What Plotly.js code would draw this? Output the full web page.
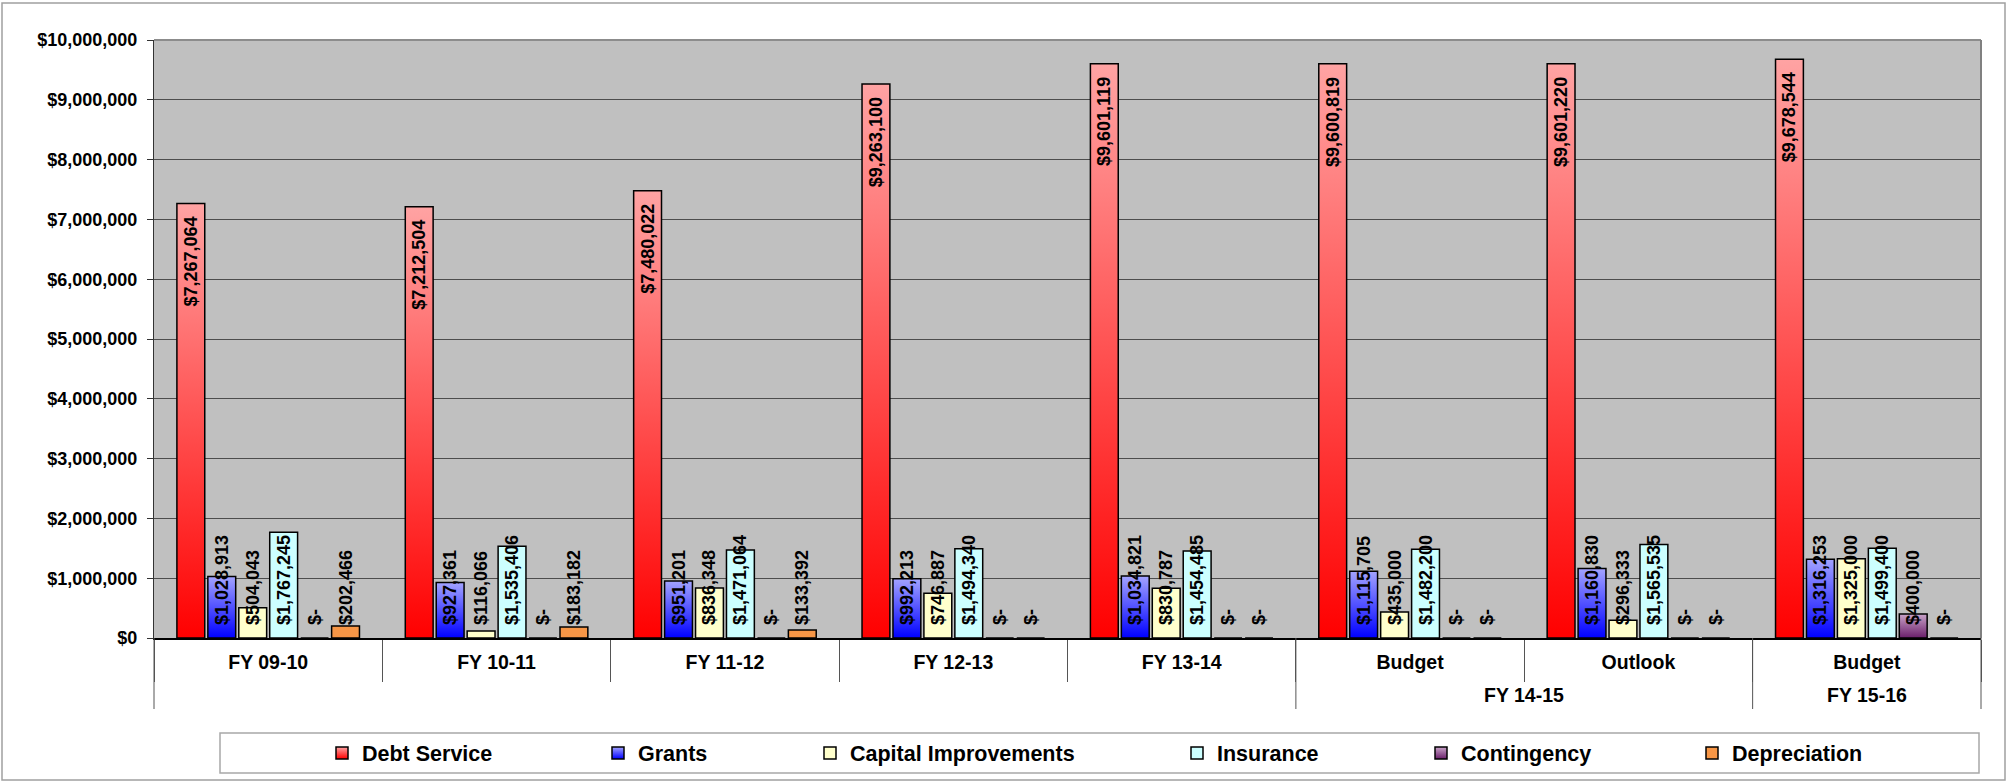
<!DOCTYPE html>
<html>
<head>
<meta charset="utf-8">
<script src="https://cdn.plot.ly/plotly-3.0.1.min.js"></script>
<style>
  html, body { margin: 0; padding: 0; background: #fff; }
  #chart { width: 2013px; height: 782px; }
</style>
</head>
<body>
<div id="chart"></div>
<script>
// ---- data ----------------------------------------------------------------
const periods     = ['FY 09-10', 'FY 10-11', 'FY 11-12', 'FY 12-13', 'FY 13-14', 'Budget', 'Outlook', 'Budget'];
const fiscalYears = ['', '', '', '', '', 'FY 14-15', 'FY 14-15', 'FY 15-16'];

const seriesNames = ['Debt Service', 'Grants', 'Capital Improvements', 'Insurance', 'Contingency', 'Depreciation'];

const debtService         = [7267064, 7212504, 7480022, 9263100, 9601119, 9600819, 9601220, 9678544];
const grants              = [1028913,  927361,  951201,  992213, 1034821, 1115705, 1160830, 1316253];
const capitalImprovements = [ 504043,  116066,  836348,  746887,  830787,  435000,  296333, 1325000];
const insurance           = [1767245, 1535406, 1471064, 1494340, 1454485, 1482200, 1565535, 1499400];
const contingency         = [      0,       0,       0,       0,       0,       0,       0,  400000];
const depreciation        = [ 202466,  183182,  133392,       0,       0,       0,       0,       0];

const seriesValues = [debtService, grants, capitalImprovements, insurance, contingency, depreciation];

// unique category keys; the axis shows the period name only
const categoryKeys = periods.map((p, i) => fiscalYears[i] ? p + ' ' + fiscalYears[i] : p);

// ---- styling ---------------------------------------------------------------
const FONT = 'Liberation Sans, Arial, sans-serif';
// base colour (bottom of bar) and highlight colour (top of bar)
const barColours = [
  { base: '#FF0000', top: '#FFA3A3' },
  { base: '#0000FF', top: '#A3A3FF' },
  { base: '#FFFFCC', top: '#FFFFCC' },
  { base: '#CCFFFF', top: '#CCFFFF' },
  { base: '#6A1E6A', top: '#C9A3C9' },
  { base: '#F79646', top: '#F79646' }
];

const W = 2013, H = 782;
const M = { l: 154, r: 32, t: 40, b: 144 };
const PW = W - M.l - M.r, PH = H - M.t - M.b;
const px2x = px => (px - M.l) / PW;
const py2y = py => (M.t + PH - py) / PH;

const nCat = categoryKeys.length;
const catToPaper = c => (c + 0.5) / nCat;   // category index -> paper x

// left edge of each legend entry, in page pixels
const legendLeft = [322, 598, 810, 1177, 1421, 1692];
const legendMid = 753;
const yearLabelMid = 695;
const dividerBottom = 709;

const NBSP = '\u00A0\u00A0';
const money = v => v === 0 ? '$-' : '$' + v.toLocaleString('en-US');

const labelFont = { family: FONT, size: 18, color: '#000', weight: 'bold' };
const axisFont  = { family: FONT, size: 19.5, color: '#000', weight: 'bold' };

const traces = seriesNames.map((name, i) => {
  const vals = seriesValues[i];
  const isDebt = i === 0;
  return {
    type: 'bar',
    name: name,
    x: categoryKeys,
    y: vals,
    legend: i === 0 ? 'legend' : 'legend' + (i + 1),
    marker: { color: barColours[i].base, line: { color: '#000', width: 1.5 } },
    text: vals.map(v => isDebt ? money(v) + NBSP : NBSP + money(v)),
    textposition: vals.map(v => v > 0 ? 'inside' : 'outside'),
    insidetextanchor: isDebt ? 'end' : 'start',
    textangle: -90,
    constraintext: 'none',
    cliponaxis: false,
    textfont: labelFont,
    insidetextfont: labelFont,
    outsidetextfont: labelFont,
    hoverinfo: 'skip'
  };
});

// fiscal-year groups along the category axis
const groups = [];
fiscalYears.forEach((fy, i) => {
  if (i === 0 || fy !== fiscalYears[i - 1]) groups.push({ label: fy, first: i, last: i });
  else groups[groups.length - 1].last = i;
});

const shapes = [
  // plot-area frame on top and right
  { type: 'line', xref: 'paper', yref: 'paper', x0: 0, x1: 1, y0: 1, y1: 1, line: { color: '#8C8C8C', width: 2 } },
  { type: 'line', xref: 'paper', yref: 'paper', x0: 1, x1: 1, y0: 0, y1: 1, line: { color: '#808080', width: 2 } },
  // legend box
  { type: 'rect', xref: 'paper', yref: 'paper', layer: 'below',
    x0: px2x(220), x1: px2x(1979), y0: py2y(773), y1: py2y(733),
    line: { color: '#A8A8A8', width: 1.5 }, fillcolor: 'rgba(0,0,0,0)' },
  // chart border
  { type: 'rect', xref: 'paper', yref: 'paper', layer: 'below',
    x0: px2x(2), x1: px2x(2005), y0: py2y(780), y1: py2y(3),
    line: { color: '#A0A0A0', width: 1.5 }, fillcolor: 'rgba(0,0,0,0)' }
];
// dividers between fiscal-year groups, running through both label rows
const dividerAt = [groups[0].first - 0.5].concat(groups.map(g => g.last + 0.5));
dividerAt.forEach(b => {
  shapes.push({ type: 'line', xref: 'paper', yref: 'paper',
    x0: catToPaper(b), x1: catToPaper(b), y0: 0, y1: py2y(dividerBottom),
    line: { color: '#555', width: 1 } });
});

const annotations = groups.filter(g => g.label).map(g => ({
  xref: 'paper', yref: 'paper',
  x: catToPaper((g.first + g.last) / 2), y: py2y(yearLabelMid),
  xanchor: 'center', yanchor: 'middle',
  text: g.label, showarrow: false, font: axisFont
}));

const layout = {
  width: W, height: H,
  margin: M,
  paper_bgcolor: '#FFFFFF',
  plot_bgcolor: '#C0C0C0',
  barmode: 'group',
  bargap: 0.187,
  bargroupgap: 0.1,
  font: { family: FONT, color: '#000' },
  xaxis: {
    type: 'category',
    range: [-0.5, nCat - 0.5],
    tickvals: categoryKeys, ticktext: periods,
    tickson: 'boundaries',
    showline: true, linecolor: '#000', linewidth: 1.5,
    ticks: 'outside', ticklen: 42, tickcolor: '#555', tickwidth: 1,
    ticklabelstandoff: 6,
    tickfont: axisFont,
    showgrid: false, zeroline: false, automargin: false, fixedrange: true
  },
  yaxis: {
    range: [0, 10000000], tick0: 0, dtick: 1000000,
    tickformat: '$,.0f',
    showgrid: true, gridcolor: '#4D4D4D', gridwidth: 1,
    showline: true, linecolor: '#333', linewidth: 1,
    ticks: 'outside', ticklen: 6, tickcolor: '#333',
    ticklabelstandoff: 6,
    tickfont: { family: FONT, size: 18, color: '#000', weight: 'bold' },
    zeroline: false, automargin: false, fixedrange: true
  },
  shapes: shapes,
  annotations: annotations,
  showlegend: true,
  hovermode: false
};

seriesNames.forEach((_, i) => {
  const key = i === 0 ? 'legend' : 'legend' + (i + 1);
  layout[key] = {
    xref: 'container', yref: 'container',
    x: legendLeft[i] / W, y: 1 - legendMid / H,
    xanchor: 'left', yanchor: 'middle',
    orientation: 'h',
    bgcolor: 'rgba(0,0,0,0)', borderwidth: 0,
    font: { family: FONT, size: 21.5, color: '#000', weight: 'bold' }
  };
});

const gd = document.getElementById('chart');
Plotly.newPlot(gd, traces, layout, { staticPlot: true, displayModeBar: false }).then(() => {
  // vertical colour fades on the bars and their legend swatches
  const svg = gd.querySelector('svg.main-svg');
  const defs = svg.querySelector('defs');
  const NS = 'http://www.w3.org/2000/svg';
  const barGroups = gd.querySelectorAll('.barlayer .trace.bars');
  barColours.forEach((c, i) => {
    if (c.base === c.top) return;
    const id = 'fade-' + i;
    const lg = document.createElementNS(NS, 'linearGradient');
    lg.setAttribute('id', id);
    lg.setAttribute('x1', '0'); lg.setAttribute('y1', '1');
    lg.setAttribute('x2', '0'); lg.setAttribute('y2', '0');
    [[0, c.base], [1, c.top]].forEach(([o, col]) => {
      const s = document.createElementNS(NS, 'stop');
      s.setAttribute('offset', o);
      s.setAttribute('stop-color', col);
      lg.appendChild(s);
    });
    defs.appendChild(lg);
    if (barGroups[i]) {
      barGroups[i].querySelectorAll('.point path').forEach(p => { p.style.fill = 'url(#' + id + ')'; });
    }
    const legKey = i === 0 ? 'legend' : 'legend' + (i + 1);
    gd.querySelectorAll('g.' + legKey + ' .legendpoints path').forEach(p => { p.style.fill = 'url(#' + id + ')'; });
  });
});
</script>
</body>
</html>
